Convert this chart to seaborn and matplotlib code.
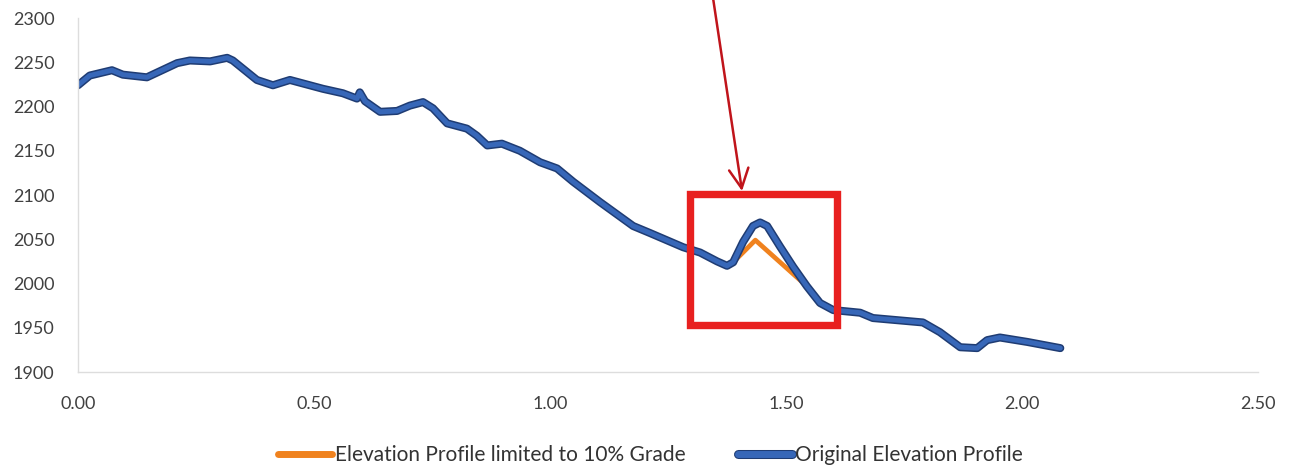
import matplotlib
matplotlib.use("Agg")
import matplotlib.pyplot as plt
import matplotlib.patheffects as pe
from matplotlib.patches import Rectangle
from matplotlib.lines import Line2D
import pandas as pd
import seaborn as sns

# Original profile: distance (mi) and elevation (ft)
distance = [0.000, 0.025, 0.072, 0.095, 0.146, 0.174, 0.210, 0.237, 0.280, 0.316,
            0.328, 0.379, 0.413, 0.449, 0.477, 0.519, 0.561, 0.591, 0.597, 0.608,
            0.640, 0.676, 0.703, 0.731, 0.752, 0.782, 0.824, 0.845, 0.867, 0.898,
            0.936, 0.979, 1.015, 1.049, 1.106, 1.176, 1.212, 1.282, 1.318, 1.354,
            1.375, 1.388, 1.409, 1.430, 1.445, 1.460, 1.487, 1.515, 1.544, 1.572,
            1.600, 1.657, 1.684, 1.790, 1.826, 1.869, 1.905, 1.926, 1.953, 2.011,
            2.081]
elevation = [2224, 2235, 2241, 2236, 2233, 2240, 2249, 2252, 2251, 2255,
             2252, 2230, 2224, 2230, 2226, 2220, 2215, 2209, 2216, 2206,
             2194, 2195, 2201, 2205, 2198, 2181, 2175, 2167, 2156, 2158,
             2150, 2137, 2130, 2115, 2092, 2065, 2057, 2041, 2035, 2025,
             2020, 2024, 2047, 2065, 2069, 2065, 2042, 2019, 1997, 1978,
             1970, 1967, 1961, 1956, 1945, 1928, 1927, 1936, 1939, 1934,
             1927]

# Grade-limited section replacing the hump
limited_dist = [1.388, 1.435, 1.544]
limited_elev = [2024, 2049, 1997]

x_ticks = [0.0, 0.5, 1.0, 1.5, 2.0, 2.5]
y_ticks = [1900, 1950, 2000, 2050, 2100, 2150, 2200, 2250, 2300]
label_limited = "Elevation Profile limited to 10% Grade"
label_original = "Original Elevation Profile"

original = pd.DataFrame({"distance": distance, "elevation": elevation})
limited = pd.concat([
    original[original.distance < limited_dist[0]],
    pd.DataFrame({"distance": limited_dist, "elevation": limited_elev}),
    original[original.distance > limited_dist[-1]],
], ignore_index=True)

sns.set_theme(style="white")
plt.rcParams["font.family"] = ["Lato", "DejaVu Sans"]

ORANGE = "#F0821E"
BLUE = "#3767B8"
BLUE_EDGE = "#1F3C73"
RED = "#E8201F"
DARK_RED = "#C0141B"

fig = plt.figure(figsize=(12.91, 4.68), dpi=100)
ax = fig.add_axes([0.0604, 0.2051, 0.9141, 0.7564])

sns.lineplot(data=limited, x="distance", y="elevation", ax=ax, sort=False,
             estimator=None, color=ORANGE, linewidth=3.4, legend=False,
             solid_capstyle="round", solid_joinstyle="round")
sns.lineplot(data=original, x="distance", y="elevation", ax=ax, sort=False,
             estimator=None, color=BLUE, linewidth=3.6, legend=False,
             solid_capstyle="round", solid_joinstyle="round",
             path_effects=[pe.Stroke(linewidth=5.8, foreground=BLUE_EDGE),
                           pe.Normal()])

ax.set_xlim(0, 2.5)
ax.set_ylim(1900, 2300)
ax.set_xticks(x_ticks)
ax.set_xticklabels([f"{v:.2f}" for v in x_ticks])
ax.set_yticks(y_ticks)
ax.set_yticklabels([str(v) for v in y_ticks])
ax.set_xlabel("")
ax.set_ylabel("")
ax.tick_params(axis="both", length=0, labelsize=13, colors="#404040")
ax.tick_params(axis="x", pad=17)
ax.tick_params(axis="y", pad=17)
for side in ["top", "right"]:
    ax.spines[side].set_visible(False)
for side in ["left", "bottom"]:
    ax.spines[side].set_color("#DDDDDD")
    ax.spines[side].set_linewidth(1.0)

# Highlight box around the hump and pointer arrow
ax.add_patch(Rectangle((1.2956, 1953.4), 1.609 - 1.2956, 2101 - 1953.4,
                       fill=False, edgecolor=RED, linewidth=5.3, zorder=5))
ax.annotate("", xy=(1.4068, 2104.5), xytext=(1.3453, 2322.7),
            xycoords="data", textcoords="data", annotation_clip=False,
            arrowprops=dict(arrowstyle="->,head_length=1.0,head_width=0.5",
                            mutation_scale=14, color=DARK_RED, linewidth=1.8,
                            shrinkA=0, shrinkB=0))

handles = [
    Line2D([], [], color=ORANGE, linewidth=5, solid_capstyle="round"),
    Line2D([], [], color=BLUE, linewidth=5, solid_capstyle="round",
           path_effects=[pe.Stroke(linewidth=6.5, foreground=BLUE_EDGE),
                         pe.Normal()]),
]
fig.legend(handles, [label_limited, label_original], loc="center",
           bbox_to_anchor=(0.504, 0.028), ncol=2, frameon=False,
           fontsize=15, handlelength=2.6, handletextpad=0.15,
           columnspacing=2.5, labelcolor="#333333")

fig.savefig("out.png", dpi=100)
